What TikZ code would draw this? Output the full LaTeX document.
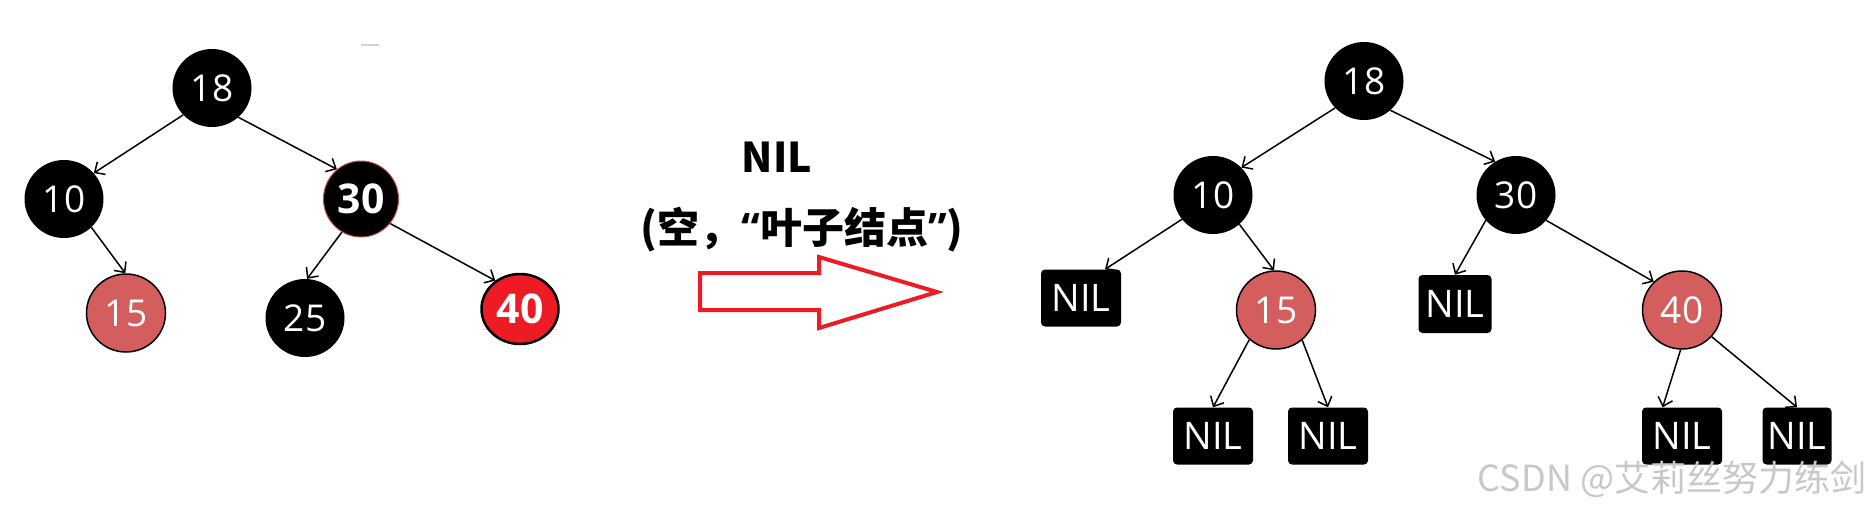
\documentclass[tikz,border=0pt]{standalone}
\usepackage{fontspec}
\usetikzlibrary{shapes.geometric,arrows.meta}
\newfontfamily\numfont{Open Sans}
\newfontfamily\cjkfont{Noto Sans CJK SC}
\definecolor{softred}{RGB}{212,94,94}
\definecolor{brightred}{RGB}{237,28,36}
\definecolor{thinred}{RGB}{192,80,77}
\definecolor{wmgray}{RGB}{200,200,200}
\newcommand{\latq}[1]{{\numfont\bfseries #1}}
\tikzset{
  bnode/.style={ellipse, fill=black, text=white, inner sep=0pt,
    minimum width=79pt, minimum height=78pt,
    font=\numfont\fontsize{37}{40}\selectfont},
  rnode/.style={bnode, fill=softred, draw=black, line width=1.5pt},
  nilbox/.style={rectangle, rounded corners=4pt, fill=black, text=white,
    inner sep=0pt, minimum width=80pt, minimum height=57pt,
    font=\numfont\fontsize{38}{40}\selectfont},
  edge/.style={-{Straight Barb[length=8pt,width=15pt,line width=1.5pt]}, line width=1.5pt, black},
  bigarrow/.style={draw=brightred, line width=4pt, line join=miter}
}
\begin{document}
\begin{tikzpicture}[x=1pt,y=-1pt]
\useasboundingbox (0,0) rectangle (1873,511);
% ---------- left tree ----------
\node[bnode] (l18) at (212,88) {18};
\node[bnode] (l10) at (64,199) {10};
\node[bnode, draw=thinred, line width=1pt, minimum width=75pt, minimum height=76pt,
  font=\numfont\bfseries\fontsize{41}{44}\selectfont] (l30) at (361,199) {30};
\node[rnode] (l15) at (126,313) {15};
\node[bnode] (l25) at (305,318) {25};
\node[bnode, fill=brightred, draw=black, line width=2.5pt, minimum width=77pt, minimum height=70pt,
  font=\numfont\bfseries\fontsize{41}{44}\selectfont] (l40) at (520,309) {40};
\draw[gray!35, line width=1.5pt] (361,45) -- (379,45);
\draw[edge] (l18.223) -- (l10.41);
\draw[edge] (l18.312) -- (l30.129);
\draw[edge] (l10.314) -- (l15.91);
\draw[edge] (l30.240) -- (l25.87);
\draw[edge] (l30.320) -- (l40.131);
% ---------- middle ----------
\node[font=\cjkfont\bfseries\fontsize{41}{46}\selectfont] (niltxt) at (777,157) {NIL};
\node[font=\cjkfont\bfseries\fontsize{42}{48}\selectfont] (cjktxt) at (802,230) {(空，\latq{“}叶子结点\latq{”})};
\draw[bigarrow] (700,273) -- (819,273) -- (819,257) -- (937,292) -- (819,328) -- (819,310) -- (700,310) -- cycle;
% ---------- right tree ----------
\node[bnode] (r18) at (1364,81) {18};
\node[bnode] (r10) at (1213,195) {10};
\node[bnode] (r30) at (1516,195) {30};
\node[nilbox] (n1) at (1081,298) {NIL};
\node[rnode] (r15) at (1276,310) {15};
\node[nilbox, minimum width=73pt, minimum height=58pt] (n2) at (1455,304) {NIL};
\node[rnode] (r40) at (1682,310) {40};
\node[nilbox] (n3) at (1213,436) {NIL};
\node[nilbox] (n4) at (1328,436) {NIL};
\node[nilbox] (n5) at (1682,436) {NIL};
\node[nilbox, minimum width=69pt] (n6) at (1797,436) {NIL};
\draw[edge] (r18.223) -- (r10.44);
\draw[edge] (r18.312) -- (r30.122);
\draw[edge] (r10.218) -- (n1.50);
\draw[edge] (r10.312) -- (r15.93);
\draw[edge] (r30.220) -- (n2.north);
\draw[edge] (r30.320) -- (r40.135);
\draw[edge] (r15.228) -- (n3.north);
\draw[edge] (r15.311) -- (n4.north);
\draw[edge] (r40.268) -- (n5.124);
\draw[edge] (r40.318) -- (n6.north);
% ---------- watermark ----------
\node[text=wmgray, font=\cjkfont\fontsize{36}{40}\selectfont] (wm) at (1672,479) {CSDN @艾莉丝努力练剑};
\end{tikzpicture}
\end{document}
